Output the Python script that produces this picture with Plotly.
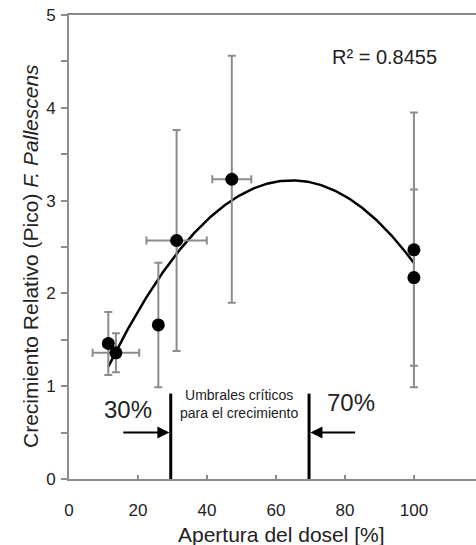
import numpy as np
import plotly.graph_objects as go

# ---- data ----
apertura = [11.4, 13.6, 25.9, 31.2, 47.2, 100, 100]
crecimiento = [1.46, 1.36, 1.66, 2.57, 3.23, 2.47, 2.17]
err_y = [0.34, 0.21, 0.67, 1.19, 1.33, 1.48, 0.95]
err_x = [1.4, 6.75, 0, 8.75, 5.65, 0, 0]
fit_coef = [-0.00071, 0.0917, 0.257]   # polynomial trendline (x^2, x, 1)
r2_text = "R² = 0.8455"
umbrales = [29.5, 69.6]
umbral_labels = ["30%", "70%"]
umbral_top = 0.92
x_ticks = [0, 20, 40, 60, 80, 100]
y_ticks = [0, 0.5, 1, 1.5, 2, 2.5, 3, 3.5, 4, 4.5, 5]

FONT = "Liberation Sans, Arial, sans-serif"
GREY = "#8c8c8c"

fig = go.Figure()

# trendline
xf = np.linspace(min(apertura), max(apertura), 200)
yf = np.polyval(fit_coef, xf)
fig.add_trace(go.Scatter(x=xf, y=yf, mode="lines",
                         line=dict(color="black", width=2.5), hoverinfo="skip"))

# points with error bars
fig.add_trace(go.Scatter(
    x=apertura, y=crecimiento, mode="markers",
    marker=dict(color="black", size=13),
    error_y=dict(type="data", array=err_y, color=GREY, thickness=2, width=4),
    error_x=dict(type="data", array=err_x, color=GREY, thickness=2, width=4),
))

# threshold lines
for u in umbrales:
    fig.add_trace(go.Scatter(x=[u, u], y=[0, umbral_top], mode="lines",
                             line=dict(color="black", width=3), hoverinfo="skip"))

C = dict(xanchor="center", yanchor="middle", showarrow=False)
annotations = []
# arrows
annotations.append(dict(x=umbrales[0] - 0.4, y=0.5, ax=15.3, ay=0.5, xref="x", yref="y",
                        axref="x", ayref="y", showarrow=True, arrowhead=2, arrowsize=1.2,
                        arrowwidth=2, arrowcolor="black", text=""))
annotations.append(dict(x=umbrales[1] + 0.4, y=0.5, ax=83.4, ay=0.5, xref="x", yref="y",
                        axref="x", ayref="y", showarrow=True, arrowhead=2, arrowsize=1.2,
                        arrowwidth=2, arrowcolor="black", text=""))
annotations.append(dict(x=17.1, y=0.745, xref="x", yref="y", text=umbral_labels[0],
                        font=dict(size=24, color="#222", family=FONT), **C))
annotations.append(dict(x=81.7, y=0.82, xref="x", yref="y", text=umbral_labels[1],
                        font=dict(size=24, color="#222", family=FONT), **C))
annotations.append(dict(x=49.2, y=0.81, xref="x", yref="y",
                        text="Umbrales críticos<br>para el crecimiento", align="center",
                        font=dict(size=14, color="#222", family=FONT), **C))
annotations.append(dict(x=91.6, y=4.55, xref="x", yref="y", text=r2_text,
                        font=dict(size=20, color="#222", family=FONT), **C))
# axis titles
annotations.append(dict(x=(281 - 69) / 407, y=(479 - 534) / 464, xref="paper", yref="paper",
                        text="Apertura del dosel [%]",
                        font=dict(size=21, color="#222", family=FONT), **C))
annotations.append(dict(x=(30 - 69) / 407, y=(479 - 256) / 464, xref="paper", yref="paper",
                        text="Crecimiento Relativo (Pico) <i>F. Pallescens</i>", textangle=-90,
                        font=dict(size=21, color="#222", family=FONT), **C))

fig.update_layout(
    width=476, height=545,
    margin=dict(l=69, r=0, t=15, b=66),
    paper_bgcolor="white", plot_bgcolor="white",
    showlegend=False,
    annotations=annotations,
    font=dict(family=FONT, color="#222"),
)
fig.update_xaxes(range=[0, 118], tickvals=x_ticks, ticks="inside", ticklen=4,
                 tickcolor=GREY, tickwidth=1.5, showline=True, linecolor=GREY, linewidth=2,
                 mirror=True, showgrid=False, zeroline=False,
                 tickfont=dict(size=17, color="#222", family=FONT), ticklabelstandoff=15)
fig.update_yaxes(range=[0, 5], tickvals=y_ticks,
                 ticktext=[("%g" % v) if float(v).is_integer() else "" for v in y_ticks],
                 ticks="outside", ticklen=6, tickcolor=GREY, tickwidth=1.5,
                 showline=True, linecolor=GREY, linewidth=2, showgrid=False, zeroline=False,
                 tickfont=dict(size=17, color="#222", family=FONT), ticklabelstandoff=2)

fig.write_html("out.html", config={"displayModeBar": False},
               post_script="document.body.style.margin='0';document.body.style.overflow='hidden';")
